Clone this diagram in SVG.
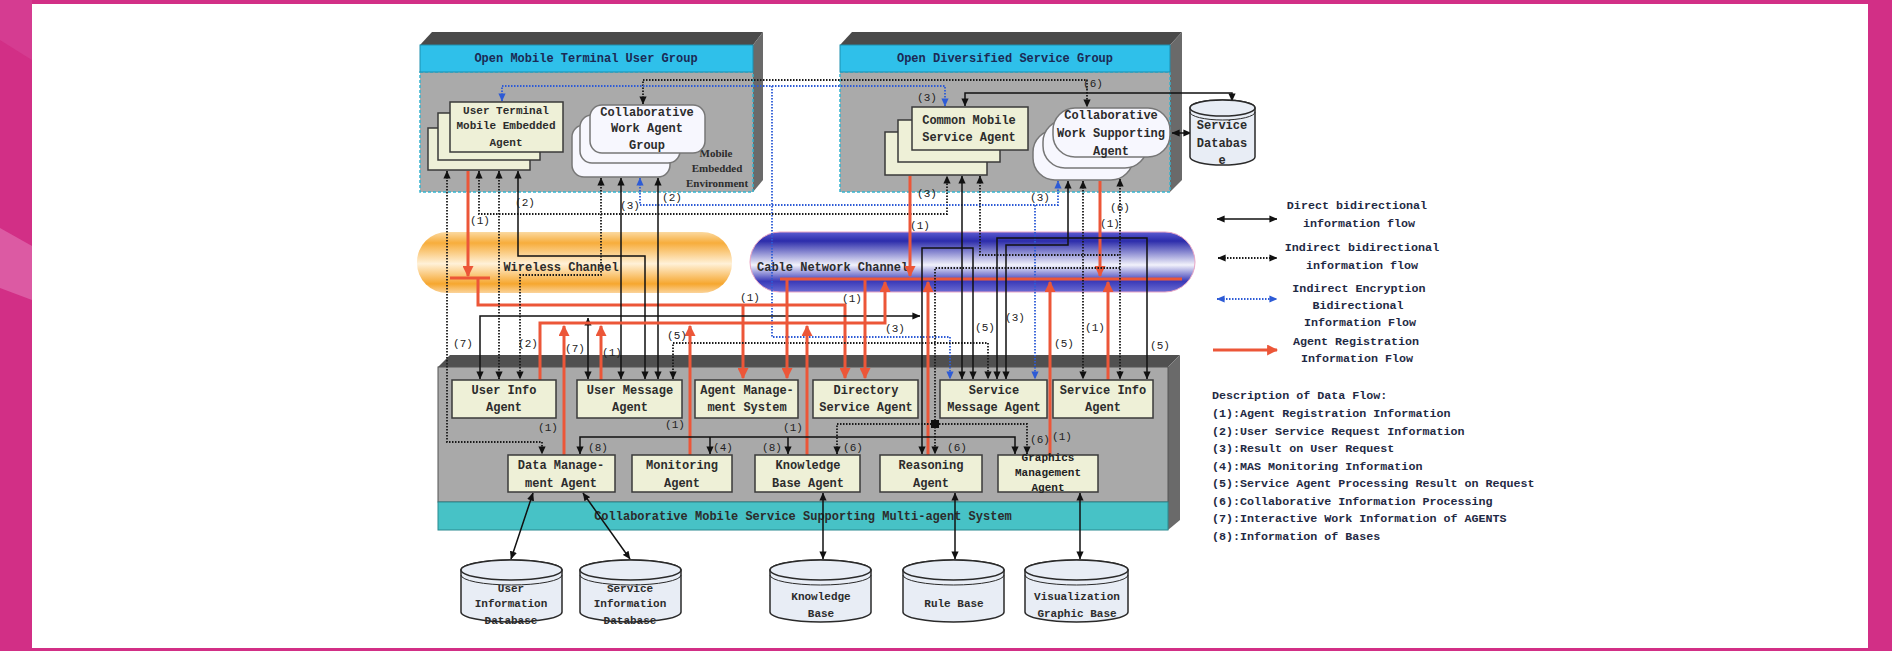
<svg xmlns="http://www.w3.org/2000/svg" width="1892" height="651" viewBox="0 0 1892 651">
<defs>
<style>
.s{fill:none;stroke:#111;stroke-width:1.5}
.d{fill:none;stroke:#1a1a1a;stroke-width:1.8;stroke-dasharray:1.5 1.5}
.b{fill:none;stroke:#2d5bd6;stroke-width:1.8;stroke-dasharray:1.5 1.5}
.r{fill:none;stroke:#ec5638;stroke-width:3}
.kk{marker-start:url(#k);marker-end:url(#k)}
.ke{marker-end:url(#k)}
.ks{marker-start:url(#k)}
.bb{marker-start:url(#bm);marker-end:url(#bm)}
.be{marker-end:url(#bm)}
.re{marker-end:url(#rm)}
.bx{fill:#eef0d7;stroke:#3a3a3a;stroke-width:1.5}
.rb{fill:#f7f7fe;stroke:#777;stroke-width:1.5}
.cy{fill:#e8edf5;stroke:#2a2a2a;stroke-width:1.5}
.t{font-family:"Liberation Mono",monospace;font-size:12px;font-weight:bold;fill:#2c2c2c;text-anchor:middle}
.tl{font-family:"Liberation Mono",monospace;font-size:12px;font-weight:bold;fill:#2c2c2c;text-anchor:start}
.ts{font-family:"Liberation Mono",monospace;font-size:11px;font-weight:bold;fill:#2c2c2c;text-anchor:middle}
.hd{font-family:"Liberation Mono",monospace;font-size:12px;font-weight:bold;fill:#1b2a55;text-anchor:middle}
.lb{font-family:"Liberation Mono",monospace;font-size:11px;fill:#222;text-anchor:middle}
.lg{font-family:"Liberation Mono",monospace;font-size:11.7px;font-weight:bold;fill:#1f2a44;text-anchor:middle}
.ds{font-family:"Liberation Mono",monospace;font-size:11.7px;font-weight:bold;fill:#1f2a44}
.sf{font-family:"Liberation Serif",serif;font-size:11px;font-weight:bold;fill:#2c2c2c;text-anchor:middle}
</style>
<marker id="k" viewBox="0 0 10 10" refX="9.5" refY="5" markerWidth="8" markerHeight="8" markerUnits="userSpaceOnUse" orient="auto-start-reverse"><path d="M0,0.5 L10,5 L0,9.5 Z" fill="#111"/></marker>
<marker id="bm" viewBox="0 0 10 10" refX="9.5" refY="5" markerWidth="8" markerHeight="8" markerUnits="userSpaceOnUse" orient="auto-start-reverse"><path d="M0,0.5 L10,5 L0,9.5 Z" fill="#2d5bd6"/></marker>
<marker id="rm" viewBox="0 0 10 10" refX="9" refY="5" markerWidth="11" markerHeight="11" markerUnits="userSpaceOnUse" orient="auto"><path d="M0,0 L10,5 L0,10 Z" fill="#ec5638"/></marker>
<linearGradient id="og" x1="0" y1="0" x2="0" y2="1">
<stop offset="0" stop-color="#fbd9a0"/>
<stop offset="0.18" stop-color="#f7ad3c"/>
<stop offset="0.52" stop-color="#fff1d8"/>
<stop offset="0.85" stop-color="#f6a72f"/>
<stop offset="1" stop-color="#fbd39a"/>
</linearGradient>
<linearGradient id="bg" x1="0" y1="0" x2="0" y2="1">
<stop offset="0" stop-color="#5a5ad0"/>
<stop offset="0.15" stop-color="#2c2cab"/>
<stop offset="0.55" stop-color="#f2f2fb"/>
<stop offset="0.82" stop-color="#3a3ab8"/>
<stop offset="1" stop-color="#6a6ad2"/>
</linearGradient>
</defs>

<rect width="1892" height="651" fill="#d22f86"/>
<polygon points="0,228 32,246 32,300 0,288" fill="#de62a8" opacity="0.85"/>
<polygon points="0,0 32,0 32,60 0,40" fill="#d84a9b" opacity="0.5"/>
<rect x="32" y="4" width="1836" height="644" fill="#ffffff"/>

<g id="grp-user">
<polygon points="420,45 432,32 763,32 753,45" fill="#4a4a4a"/>
<polygon points="753,45 763,32 763,180 753,192" fill="#6a6a6a"/>
<rect x="420" y="72" width="333" height="120" fill="#aaaaaa" stroke="#35b4cf" stroke-width="1.5" stroke-dasharray="3 2"/>
<rect x="420" y="45" width="333" height="27" fill="#2fc0ea" stroke="#1e8fb0"/>
<text class="hd" x="586" y="62">Open Mobile Terminal User Group</text>
<text class="sf" x="716" y="157">Mobile</text>
<text class="sf" x="717" y="172">Embedded</text>
<text class="sf" x="717" y="187">Environment</text>
</g>

<g id="grp-service">
<polygon points="840,45 852,32 1182,32 1170,45" fill="#4a4a4a"/>
<polygon points="1170,45 1182,32 1182,180 1170,192" fill="#6a6a6a"/>
<rect x="840" y="72" width="330" height="120" fill="#aaaaaa" stroke="#35b4cf" stroke-width="1.5" stroke-dasharray="3 2"/>
<rect x="840" y="45" width="330" height="27" fill="#2fc0ea" stroke="#1e8fb0"/>
<text class="hd" x="1005" y="62">Open Diversified Service Group</text>
</g>

<g id="wireless-channel">
<rect x="417" y="232" width="315" height="61" rx="30" fill="url(#og)"/>
<text class="t" x="561" y="271">Wireless Channel</text>
</g>
<g id="cable-channel">
<rect x="750" y="232" width="445" height="60" rx="30" fill="url(#bg)" stroke="#e9a5c5"/>
<text class="tl" x="757" y="271">Cable Network Channel</text>
</g>

<g id="mas">
<polygon points="438,367 450,355 1180,355 1168,367" fill="#505050"/>
<polygon points="1168,367 1180,355 1180,520 1168,530" fill="#6a6a6a"/>
<rect x="438" y="367" width="730" height="135" fill="#a9a9a9" stroke="#555"/>
<rect x="438" y="502" width="730" height="28" fill="#47c2c6" stroke="#2a8a90"/>
<text class="t" x="803" y="520">Collaborative Mobile Service Supporting Multi-agent System</text>
</g>

<g id="connectors">
<path class="d kk" d="M643,104 V80 H1087 V107"/>
<path class="b bb" d="M502,101 V86 H945 V106"/>
<path class="s kk" d="M965,106 V93 H1232 V101"/>
<path class="s kk" d="M1172,133 H1191"/>
<path class="b be" d="M772,86 V337 H950 V379"/>
<path class="d kk" d="M447,171 V442 H542 V454"/>
<path class="r re" d="M468,171 V276"/>
<path class="r" d="M450,278 H490"/>
<path class="r re" d="M478,278 V305 H845 V378"/>
<path class="r re" d="M743,305 V378"/>
<path class="d kk" d="M479,171 V214 H947 V176"/>
<path class="d kk" d="M499,171 V379"/>
<path class="s kk" d="M518,171 V256 H645 V379"/>
<path class="d kk" d="M601,178 V275 H520 V379"/>
<path class="s kk" d="M621,178 V379"/>
<path class="b bb" d="M640,178 V205 H1058 V181"/>
<path class="b be" d="M1035,205 V379"/>
<path class="s kk" d="M658,178 V379"/>
<path class="s kk" d="M480,379 V316 H920"/>
<path class="s kk" d="M588,318 V379"/>
<path class="d kk" d="M673,379 V343 H988 V379"/>
<path class="r re" d="M540,380 V323 H885 V282"/>
<path class="r re" d="M564,455 V326"/>
<path class="r re" d="M601,380 V326"/>
<path class="r re" d="M690,455 V326"/>
<path class="r re" d="M807,455 V326"/>
<path class="r" d="M780,279 H1182"/>
<path class="r re" d="M787,279 V378"/>
<path class="r re" d="M865,279 V378"/>
<path class="r re" d="M910,176 V276"/>
<path class="r re" d="M928,455 V282"/>
<path class="r re" d="M1050,455 V282"/>
<path class="r re" d="M1100,181 V276"/>
<path class="r re" d="M1108,380 V282"/>
<path class="s kk" d="M922,454 V248 H973 V379"/>
<path class="s kk" d="M962,176 V379"/>
<path class="d ks" d="M980,176 V255 H1120"/>
<path class="d kk" d="M1120,179 V379"/>
<path class="d" d="M1120,268 H935 V424"/>
<path class="s kk" d="M997,379 V238 H1147 V379"/>
<path class="s kk" d="M1006,379 V245 H1068 V181"/>
<path class="d kk" d="M1083,181 V379"/>
<path class="d kk" d="M837,454 V424 H1027 V454"/>
<path class="d ke" d="M935,424 V454"/>
<rect x="931" y="420" width="8" height="8" fill="#111"/>
<path class="s kk" d="M580,454 V437 H1015 V454"/>
<path class="s ke" d="M710,437 V454"/>
<path class="s ke" d="M788,437 V454"/>
<path class="s kk" d="M533,493 L511,559"/>
<path class="s kk" d="M583,493 L630,559"/>
<path class="s kk" d="M823,493 V559"/>
<path class="s kk" d="M955,493 V559"/>
<path class="s kk" d="M1080,493 V559"/>
</g>

<g id="node-user-terminal-agent">
<rect class="bx" x="428" y="128" width="102" height="42"/>
<rect class="bx" x="438" y="113" width="102" height="47"/>
<rect class="bx" x="450" y="102" width="113" height="50"/>
<text class="ts" x="506" y="114">User Terminal</text>
<text class="ts" x="506" y="129">Mobile Embedded</text>
<text class="ts" x="506" y="146">Agent</text>
</g>
<g id="node-collab-work-agent-group">
<rect class="rb" x="572" y="125" width="98" height="52" rx="12"/>
<rect class="rb" x="580" y="115" width="100" height="48" rx="12"/>
<rect class="rb" x="590" y="105" width="115" height="48" rx="12"/>
<text class="t" x="647" y="116">Collaborative</text>
<text class="t" x="647" y="132">Work Agent</text>
<text class="t" x="647" y="149">Group</text>
</g>
<g id="node-common-mobile-service-agent">
<rect class="bx" x="885" y="132" width="102" height="43"/>
<rect class="bx" x="898" y="120" width="102" height="42"/>
<rect class="bx" x="912" y="107" width="116" height="43"/>
<text class="t" x="969" y="124">Common Mobile</text>
<text class="t" x="969" y="141">Service Agent</text>
</g>
<g id="node-collab-work-supporting-agent">
<rect class="rb" x="1033" y="130" width="100" height="50" rx="22"/>
<rect class="rb" x="1043" y="120" width="104" height="48" rx="22"/>
<rect class="rb" x="1053" y="108" width="117" height="49" rx="22"/>
<text class="t" x="1111" y="119">Collaborative</text>
<text class="t" x="1111" y="137">Work Supporting</text>
<text class="t" x="1111" y="155">Agent</text>
</g>
<g id="node-service-database">
<path class="cy" d="M1190,108 A32.5,8 0 0 1 1255,108 V157 A32.5,8 0 0 1 1190,157 Z"/>
<ellipse class="cy" cx="1222.5" cy="108" rx="32.5" ry="8"/>
<path fill="none" stroke="#2a2a2a" d="M1190,112 A32.5,8 0 0 0 1255,112"/>
<text class="t" x="1222" y="129">Service</text>
<text class="t" x="1222" y="147">Databas</text>
<text class="t" x="1222" y="164">e</text>
</g>

<g id="node-user-info-agent"><rect class="bx" x="452" y="380" width="104" height="38"/><text class="t" x="504" y="394">User Info</text><text class="t" x="504" y="411">Agent</text></g>
<g id="node-user-message-agent"><rect class="bx" x="577" y="380" width="105" height="38"/><text class="t" x="630" y="394">User Message</text><text class="t" x="630" y="411">Agent</text></g>
<g id="node-agent-management-system"><rect class="bx" x="695" y="380" width="103" height="38"/><text class="t" x="747" y="394">Agent Manage-</text><text class="t" x="747" y="411">ment System</text></g>
<g id="node-directory-service-agent"><rect class="bx" x="813" y="380" width="105" height="38"/><text class="t" x="866" y="394">Directory</text><text class="t" x="866" y="411">Service Agent</text></g>
<g id="node-service-message-agent"><rect class="bx" x="940" y="380" width="107" height="38"/><text class="t" x="994" y="394">Service</text><text class="t" x="994" y="411">Message Agent</text></g>
<g id="node-service-info-agent"><rect class="bx" x="1053" y="380" width="100" height="38"/><text class="t" x="1103" y="394">Service Info</text><text class="t" x="1103" y="411">Agent</text></g>

<g id="node-data-management-agent"><rect class="bx" x="508" y="455" width="107" height="37"/><text class="t" x="561" y="469">Data Manage-</text><text class="t" x="561" y="487">ment Agent</text></g>
<g id="node-monitoring-agent"><rect class="bx" x="632" y="455" width="100" height="37"/><text class="t" x="682" y="469">Monitoring</text><text class="t" x="682" y="487">Agent</text></g>
<g id="node-knowledge-base-agent"><rect class="bx" x="755" y="455" width="105" height="37"/><text class="t" x="808" y="469">Knowledge</text><text class="t" x="808" y="487">Base Agent</text></g>
<g id="node-reasoning-agent"><rect class="bx" x="880" y="455" width="102" height="37"/><text class="t" x="931" y="469">Reasoning</text><text class="t" x="931" y="487">Agent</text></g>
<g id="node-graphics-management-agent"><rect class="bx" x="998" y="455" width="100" height="37"/><text class="lb" font-weight="bold" x="1048" y="461">Graphics</text><text class="lb" font-weight="bold" x="1048" y="476">Management</text><text class="lb" font-weight="bold" x="1048" y="491">Agent</text></g>

<g id="node-user-information-database">
<path class="cy" d="M461,570 A50.5,10 0 0 1 562,570 V612 A50.5,10 0 0 1 461,612 Z"/>
<ellipse class="cy" cx="511.5" cy="570" rx="50.5" ry="10"/>
<path fill="none" stroke="#2a2a2a" d="M461,575 A50.5,10 0 0 0 562,575"/>
<text class="ts" x="511" y="592">User</text><text class="ts" x="511" y="607">Information</text><text class="ts" x="511" y="624">Database</text>
</g>
<g id="node-service-information-database">
<path class="cy" d="M580,570 A50.5,10 0 0 1 681,570 V612 A50.5,10 0 0 1 580,612 Z"/>
<ellipse class="cy" cx="630.5" cy="570" rx="50.5" ry="10"/>
<path fill="none" stroke="#2a2a2a" d="M580,575 A50.5,10 0 0 0 681,575"/>
<text class="ts" x="630" y="592">Service</text><text class="ts" x="630" y="607">Information</text><text class="ts" x="630" y="624">Database</text>
</g>
<g id="node-knowledge-base">
<path class="cy" d="M770,570 A50.5,10 0 0 1 871,570 V612 A50.5,10 0 0 1 770,612 Z"/>
<ellipse class="cy" cx="820.5" cy="570" rx="50.5" ry="10"/>
<path fill="none" stroke="#2a2a2a" d="M770,575 A50.5,10 0 0 0 871,575"/>
<text class="ts" x="821" y="600">Knowledge</text><text class="ts" x="821" y="617">Base</text>
</g>
<g id="node-rule-base">
<path class="cy" d="M903,570 A50.5,10 0 0 1 1004,570 V612 A50.5,10 0 0 1 903,612 Z"/>
<ellipse class="cy" cx="953.5" cy="570" rx="50.5" ry="10"/>
<path fill="none" stroke="#2a2a2a" d="M903,575 A50.5,10 0 0 0 1004,575"/>
<text class="ts" x="954" y="607">Rule Base</text>
</g>
<g id="node-visualization-graphic-base">
<path class="cy" d="M1025,570 A51.5,10 0 0 1 1128,570 V612 A51.5,10 0 0 1 1025,612 Z"/>
<ellipse class="cy" cx="1076.5" cy="570" rx="51.5" ry="10"/>
<path fill="none" stroke="#2a2a2a" d="M1025,575 A51.5,10 0 0 0 1128,575"/>
<text class="ts" x="1077" y="600">Visualization</text><text class="ts" x="1077" y="617">Graphic Base</text>
</g>

<g id="flow-labels">
<text class="lb" x="525" y="206">(2)</text>
<text class="lb" x="480" y="224">(1)</text>
<text class="lb" x="630" y="209">(3)</text>
<text class="lb" x="672" y="201">(2)</text>
<text class="lb" x="927" y="197">(3)</text>
<text class="lb" x="920" y="229">(1)</text>
<text class="lb" x="1040" y="201">(3)</text>
<text class="lb" x="1120" y="211">(6)</text>
<text class="lb" x="1110" y="227">(1)</text>
<text class="lb" x="927" y="101">(3)</text>
<text class="lb" x="1093" y="87">(6)</text>
<text class="lb" x="750" y="301">(1)</text>
<text class="lb" x="852" y="302">(1)</text>
<text class="lb" x="895" y="332">(3)</text>
<text class="lb" x="985" y="331">(5)</text>
<text class="lb" x="1015" y="321">(3)</text>
<text class="lb" x="1095" y="331">(1)</text>
<text class="lb" x="1064" y="347">(5)</text>
<text class="lb" x="1160" y="349">(5)</text>
<text class="lb" x="463" y="347">(7)</text>
<text class="lb" x="528" y="347">(2)</text>
<text class="lb" x="575" y="352">(7)</text>
<text class="lb" x="612" y="356">(1)</text>
<text class="lb" x="677" y="339">(5)</text>
<text class="lb" x="548" y="431">(1)</text>
<text class="lb" x="675" y="428">(1)</text>
<text class="lb" x="793" y="431">(1)</text>
<text class="lb" x="1062" y="440">(1)</text>
<text class="lb" x="598" y="451">(8)</text>
<text class="lb" x="723" y="451">(4)</text>
<text class="lb" x="772" y="451">(8)</text>
<text class="lb" x="853" y="451">(6)</text>
<text class="lb" x="957" y="451">(6)</text>
<text class="lb" x="1040" y="443">(6)</text>
</g>

<g id="legend">
<path class="s kk" d="M1217,219 H1277"/>
<path class="d kk" d="M1218,258 H1277"/>
<path class="b bb" d="M1217,299 H1277"/>
<path class="r re" d="M1213,350 H1277"/>
<text class="lg" x="1357" y="209">Direct bidirectional</text>
<text class="lg" x="1359" y="227">information flow</text>
<text class="lg" x="1362" y="251">Indirect bidirectional</text>
<text class="lg" x="1362" y="269">information flow</text>
<text class="lg" x="1359" y="292">Indirect Encryption</text>
<text class="lg" x="1358" y="309">Bidirectional</text>
<text class="lg" x="1360" y="326">Information Flow</text>
<text class="lg" x="1356" y="345">Agent Registration</text>
<text class="lg" x="1357" y="362">Information Flow</text>
</g>

<g id="description">
<text class="ds" x="1212" y="399">Description of Data Flow:</text>
<text class="ds" x="1212" y="417">(1):Agent Registration Information</text>
<text class="ds" x="1212" y="435">(2):User Service Request Information</text>
<text class="ds" x="1212" y="452">(3):Result on User Request</text>
<text class="ds" x="1212" y="470">(4):MAS Monitoring Information</text>
<text class="ds" x="1212" y="487">(5):Service Agent Processing Result on Request</text>
<text class="ds" x="1212" y="505">(6):Collaborative Information Processing</text>
<text class="ds" x="1212" y="522">(7):Interactive Work Information of AGENTS</text>
<text class="ds" x="1212" y="540">(8):Information of Bases</text>
</g>
</svg>
